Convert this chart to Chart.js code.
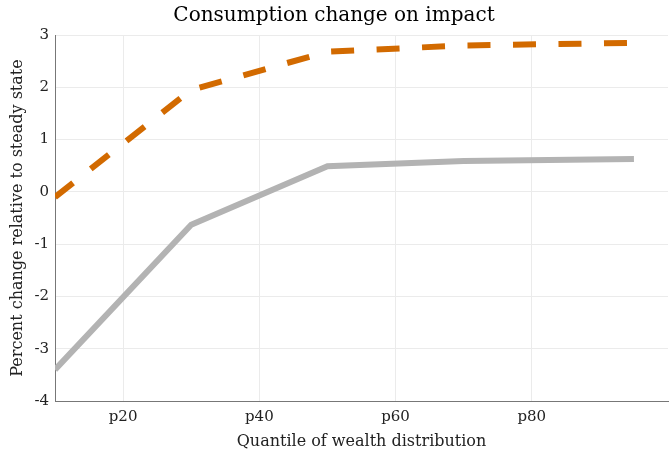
<!DOCTYPE html>
<html>
<head>
<meta charset="utf-8">
<script src="https://cdn.jsdelivr.net/npm/chart.js@4"></script>
<style>
  html, body { margin: 0; padding: 0; background: #fff; }
  #wrap { width: 670px; height: 451px; }
</style>
</head>
<body>
<div id="wrap"><canvas id="chart" width="670" height="451"></canvas></div>
<script>
// wealth quantiles (x) and consumption change, percent
const quantiles = [10, 30, 50, 70, 95];
const graySeries = [-3.4, -0.63, 0.49, 0.59, 0.63];
const orangeSeries = [-0.1, 1.95, 2.68, 2.8, 2.85];
const xTickValues = [20, 40, 60, 80];
const yRange = [-4, 3];

const serif = "'DejaVu Serif', 'Liberation Serif', serif";

const toPoints = ys => quantiles.map((q, i) => ({ x: q, y: ys[i] }));

const ctx = document.getElementById('chart').getContext('2d');
new Chart(ctx, {
  type: 'line',
  data: {
    datasets: [
      {
        data: toPoints(graySeries),
        borderColor: '#b3b3b3',
        borderWidth: 6,
        pointRadius: 0,
        tension: 0
      },
      {
        data: toPoints(orangeSeries),
        borderColor: '#d26a00',
        borderWidth: 6,
        borderDash: [23, 22.5],
        borderCapStyle: 'butt',
        pointRadius: 0,
        tension: 0
      }
    ]
  },
  options: {
    responsive: false,
    animation: false,
    layout: { padding: { left: 0, right: 2, top: 0, bottom: 0 } },
    plugins: {
      legend: { display: false },
      tooltip: { enabled: false },
      title: {
        display: true,
        text: 'Consumption change on impact',
        color: '#000',
        font: { family: serif, size: 20, weight: 'normal' },
        padding: { top: 4, bottom: 7 }
      }
    },
    scales: {
      x: {
        type: 'linear',
        min: 10,
        max: 100,
        afterBuildTicks: s => { s.ticks = xTickValues.map(v => ({ value: v })); },
        afterFit: s => { s.height = 50; },
        ticks: {
          callback: v => 'p' + v,
          color: '#222',
          padding: 7,
          maxRotation: 0,
          font: { family: serif, size: 15 }
        },
        grid: { color: '#ebebeb', drawTicks: false },
        border: { color: '#777', width: 1 },
        title: {
          display: true,
          text: 'Quantile of wealth distribution',
          color: '#222',
          padding: 0,
          font: { family: serif, size: 16 }
        }
      },
      y: {
        min: yRange[0],
        max: yRange[1],
        afterFit: s => { s.width = 55; },
        ticks: {
          stepSize: 1,
          color: '#222',
          padding: 6,
          font: { family: serif, size: 15 }
        },
        grid: { color: '#ebebeb', drawTicks: false },
        border: { color: '#777', width: 1 },
        title: {
          display: true,
          text: 'Percent change relative to steady state',
          color: '#222',
          padding: { top: 8, bottom: 0 },
          font: { family: serif, size: 16 }
        }
      }
    }
  }
});
</script>
</body>
</html>
